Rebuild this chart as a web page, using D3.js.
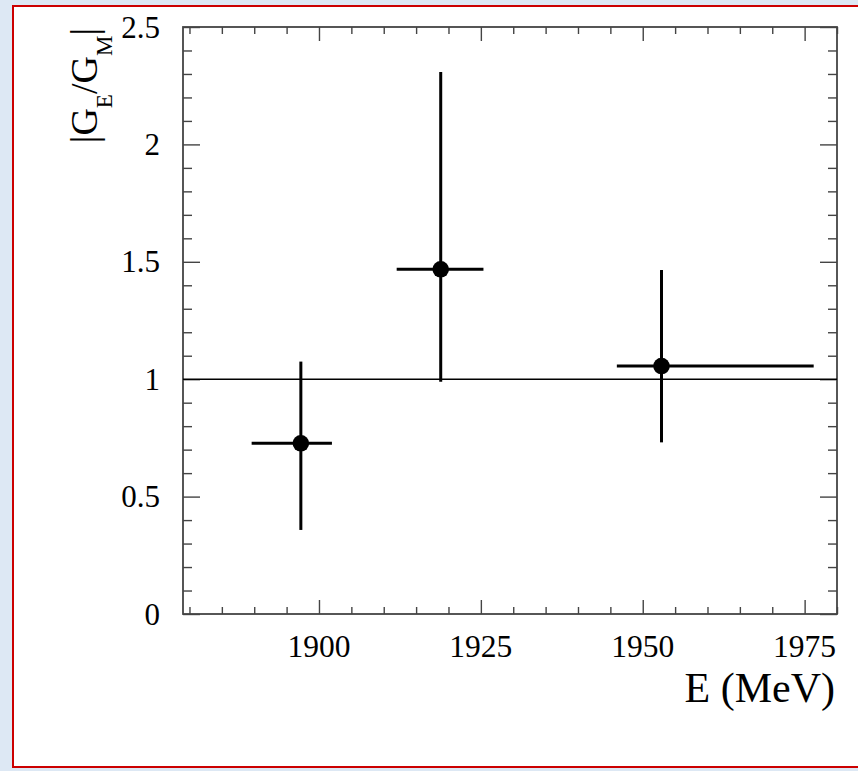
<!DOCTYPE html>
<html>
<head>
<meta charset="utf-8">
<script src="https://cdn.jsdelivr.net/npm/d3@7"></script>
<style>
  html, body { margin: 0; padding: 0; background: #dde8f4; }
  svg { display: block; }
</style>
</head>
<body>
<svg id="chart" width="858" height="771"></svg>
<script>
// ---- data ----
const energies = [1897.2, 1918.8, 1952.9];
const ratio    = [0.727, 1.468, 1.056];
const eLow     = [1889.6, 1912.0, 1946.0];
const eHigh    = [1902.0, 1925.4, 1976.4];
const rLow     = [0.358, 0.989, 0.731];
const rHigh    = [1.075, 2.308, 1.465];
const xMajorTicks = [1900, 1925, 1950, 1975];
const yMajorTicks = [0, 0.5, 1, 1.5, 2, 2.5];
const yTickLabels = ["0", "0.5", "1", "1.5", "2", "2.5"];
const referenceValue = 1;

const svg = d3.select("#chart");
const W = 858, H = 771;

// page frame
svg.append("rect").attr("x", 0).attr("y", 0).attr("width", W).attr("height", H).attr("fill", "#dde8f4");
svg.append("rect").attr("x", 13).attr("y", 6).attr("width", 860).attr("height", 761)
  .attr("fill", "#ffffff").attr("stroke", "#cc0000").attr("stroke-width", 2);

const m = {left: 183, top: 27, right: 837, bottom: 614};
const x = d3.scaleLinear().domain([1879, 1980]).range([m.left, m.right]);
const y = d3.scaleLinear().domain([0, 2.5]).range([m.bottom, m.top]);

const axisColor = "#444";
const g = svg.append("g");

// minor ticks
const xMinor = d3.range(1880, 1981, 5).filter(v => !xMajorTicks.includes(v));
const yMinor = d3.range(0, 26, 1).map(v => v / 10).filter(v => !yMajorTicks.some(t => Math.abs(t - v) < 1e-9));

function drawTicks(axisGen, transform, len, values) {
  const a = g.append("g").attr("transform", transform)
    .call(axisGen.tickValues(values).tickSize(len).tickFormat(""));
  a.select(".domain").remove();
  a.selectAll("line").attr("stroke", axisColor).attr("stroke-width", 1.4);
  a.selectAll("text").remove();
}
// bottom / top
drawTicks(d3.axisTop(x), `translate(0,${m.bottom})`, 14, xMajorTicks);
drawTicks(d3.axisTop(x), `translate(0,${m.bottom})`, 7, xMinor);
drawTicks(d3.axisBottom(x), `translate(0,${m.top})`, 14, xMajorTicks);
drawTicks(d3.axisBottom(x), `translate(0,${m.top})`, 7, xMinor);
// left / right
drawTicks(d3.axisRight(y), `translate(${m.left},0)`, 17, yMajorTicks);
drawTicks(d3.axisRight(y), `translate(${m.left},0)`, 9, yMinor);
drawTicks(d3.axisLeft(y), `translate(${m.right},0)`, 17, yMajorTicks);
drawTicks(d3.axisLeft(y), `translate(${m.right},0)`, 9, yMinor);

// frame
g.append("rect").attr("x", m.left).attr("y", m.top)
  .attr("width", m.right - m.left).attr("height", m.bottom - m.top)
  .attr("fill", "none").attr("stroke", axisColor).attr("stroke-width", 1.8);

// tick labels
const font = "'Liberation Serif', 'Times New Roman', serif";
g.selectAll(".xl").data(xMajorTicks).enter().append("text")
  .attr("x", d => x(d)).attr("y", 657)
  .attr("text-anchor", "middle").attr("font-family", font).attr("font-size", 31.5)
  .attr("fill", "#000").text(d => d);
g.selectAll(".yl").data(yMajorTicks).enter().append("text")
  .attr("x", 160).attr("y", d => y(d)).attr("dy", "0.34em")
  .attr("text-anchor", "end").attr("font-family", font).attr("font-size", 31)
  .attr("fill", "#000").text((d, i) => yTickLabels[i]);

// axis titles
g.append("text").attr("x", 835).attr("y", 702).attr("text-anchor", "end")
  .attr("font-family", font).attr("font-size", 42).attr("fill", "#000").text("E (MeV)");

const yt = g.append("text").attr("transform", `translate(97,28) rotate(-90)`)
  .attr("text-anchor", "end").attr("font-family", font).attr("font-size", 38).attr("fill", "#000");
yt.append("tspan").text("|G");
yt.append("tspan").attr("font-size", 23).attr("dy", 15).text("E");
yt.append("tspan").attr("dy", -15).text("/G");
yt.append("tspan").attr("font-size", 23).attr("dy", 15).text("M");
yt.append("tspan").attr("dy", -15).text("|");

// reference line
g.append("line").attr("x1", m.left).attr("x2", m.right)
  .attr("y1", y(referenceValue)).attr("y2", y(referenceValue))
  .attr("stroke", "#000").attr("stroke-width", 1.6);

// data
const pts = energies.map((e, i) => ({e, r: ratio[i], el: eLow[i], eh: eHigh[i], rl: rLow[i], rh: rHigh[i]}));
const pg = g.append("g");
pg.selectAll(".h").data(pts).enter().append("line")
  .attr("x1", d => x(d.el)).attr("x2", d => x(d.eh))
  .attr("y1", d => y(d.r)).attr("y2", d => y(d.r))
  .attr("stroke", "#000").attr("stroke-width", 3);
pg.selectAll(".v").data(pts).enter().append("line")
  .attr("x1", d => x(d.e)).attr("x2", d => x(d.e))
  .attr("y1", d => y(d.rl)).attr("y2", d => y(d.rh))
  .attr("stroke", "#000").attr("stroke-width", 3);
pg.selectAll("circle").data(pts).enter().append("circle")
  .attr("cx", d => x(d.e)).attr("cy", d => y(d.r)).attr("r", 8.3).attr("fill", "#000");
</script>
</body>
</html>
